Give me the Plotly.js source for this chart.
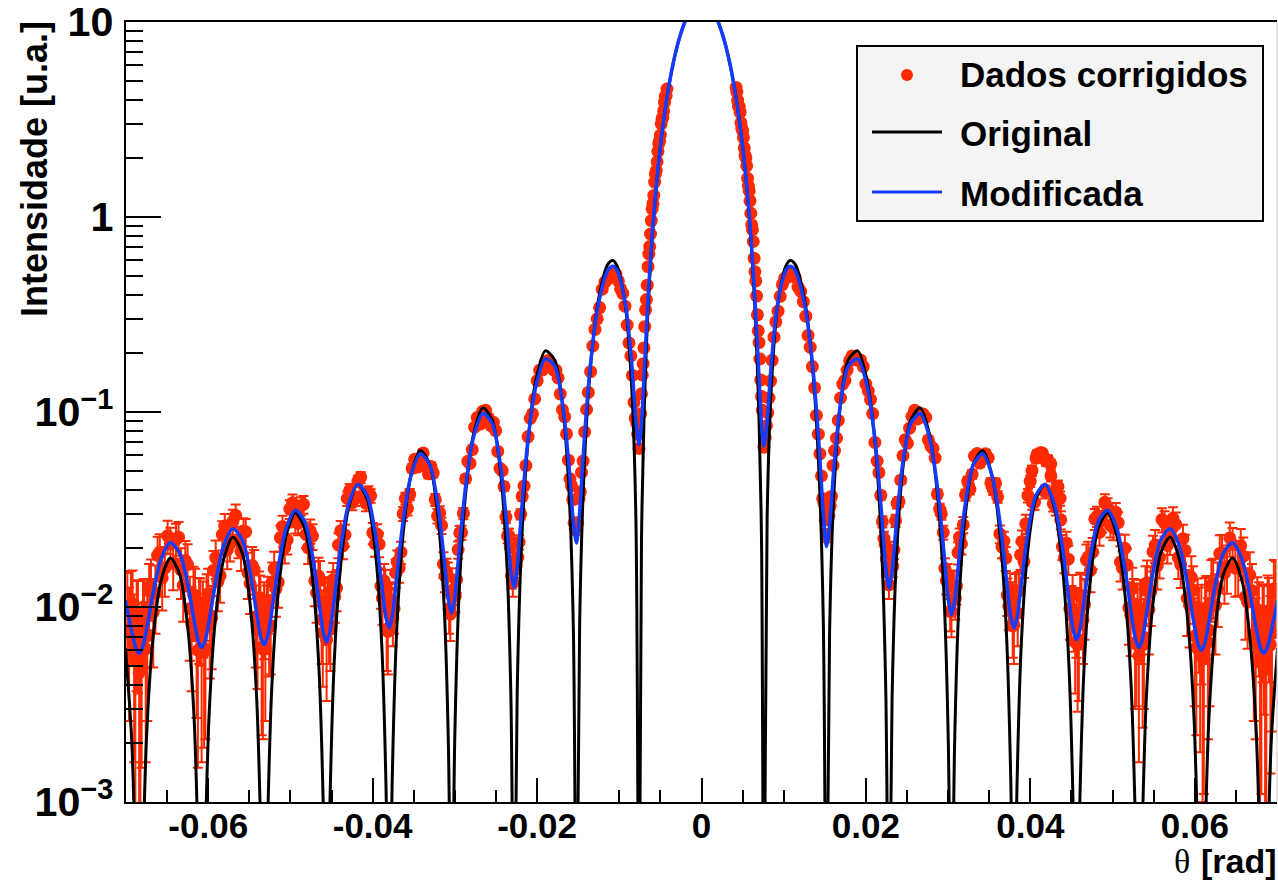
<!DOCTYPE html>
<html>
<head>
<meta charset="utf-8">
<script src="https://cdn.plot.ly/plotly-3.0.1.min.js"></script>
<style>html,body{margin:0;padding:0;background:#fff}#chart{width:1278px;height:881px}</style>
</head>
<body>
<div id="chart"></div>
<script>
// ---- model curves (shared theta grid, rad) ----
const curveTheta = [
-0.07007,-0.06931,-0.06878,-0.0684,
-0.06802,-0.06749,-0.06673,-0.06574,-0.0646,-0.06346,-0.06247,-0.06171,-0.06118,-0.0608,
-0.06042,-0.05989,-0.05913,-0.05814,-0.057,-0.05586,-0.05487,-0.05411,-0.05358,-0.0532,
-0.05282,-0.05229,-0.05153,-0.05054,-0.0494,-0.04826,-0.04727,-0.04651,-0.04598,-0.0456,
-0.04522,-0.04469,-0.04393,-0.04294,-0.0418,-0.04066,-0.03967,-0.03891,-0.03838,-0.038,
-0.03762,-0.03709,-0.03633,-0.03534,-0.0342,-0.03306,-0.03207,-0.03131,-0.03078,-0.0304,
-0.03002,-0.02949,-0.02873,-0.02774,-0.0266,-0.02546,-0.02447,-0.02371,-0.02318,-0.0228,
-0.02242,-0.02189,-0.02113,-0.02014,-0.019,-0.01786,-0.01687,-0.01611,-0.01558,-0.0152,
-0.01482,-0.01429,-0.01353,-0.01254,-0.0114,-0.01079,-0.01026,-0.00927,-0.00851,-0.00798,-0.0076,
-0.0073,-0.00699,-0.00646,-0.0057,-0.00494,-0.00418,-0.00342,-0.00266,-0.0019,-0.00114,0,
0.00114,0.0019,0.00266,0.00342,0.00418,0.00494,0.0057,0.00646,0.00699,0.0073,
0.0076,0.00798,0.00851,0.00927,0.01026,0.01079,0.0114,0.01254,0.01353,0.01429,0.01482,
0.0152,0.01558,0.01611,0.01687,0.01786,0.019,0.02014,0.02113,0.02189,0.02242,
0.0228,0.02318,0.02371,0.02447,0.02546,0.0266,0.02774,0.02873,0.02949,0.03002,
0.0304,0.03078,0.03131,0.03207,0.03306,0.0342,0.03534,0.03633,0.03709,0.03762,
0.038,0.03838,0.03891,0.03967,0.04066,0.0418,0.04294,0.04393,0.04469,0.04522,
0.0456,0.04598,0.04651,0.04727,0.04826,0.0494,0.05054,0.05153,0.05229,0.05282,
0.0532,0.05358,0.05411,0.05487,0.05586,0.057,0.05814,0.05913,0.05989,0.06042,
0.0608,0.06118,0.06171,0.06247,0.06346,0.0646,0.06574,0.06673,0.06749,0.06802,
0.0684,0.06878,0.06931,0.07007
];
const originalI = [
0.00615,0.002096,0.000384,1e-4,
0.000393,0.002211,0.006782,0.01365,0.01781,0.01465,0.007738,0.002644,0.000486,1e-4,
0.000498,0.002808,0.008638,0.01746,0.02288,0.01891,0.01003,0.003439,0.000634,1e-4,
0.000652,0.003684,0.01137,0.0231,0.03046,0.02534,0.01351,0.004655,0.00086,1e-4,
0.000889,0.005043,0.01565,0.032,0.04254,0.03569,0.01919,0.006651,0.001235,1e-4,
0.001285,0.007352,0.02288,0.04725,0.06355,0.05399,0.02936,0.01027,0.00192,1e-4,
0.002018,0.01164,0.03659,0.07668,0.105,0.09103,0.05042,0.01791,0.003385,1e-4,
0.003619,0.02102,0.06814,0.1455,0.2059,0.185,0.1061,0.0388,0.007493,1e-4,
0.008281,0.04933,0.165,0.3752,0.5719,0.5987,0.5605,0.3513,0.139,0.02856,1e-4,
0.0219,0.0941,0.367,1.144,2.42,4.15,6.2,8.34,10.29,11.79,12.7,
11.79,10.29,8.34,6.2,4.15,2.42,1.144,0.367,0.0941,0.0219,
1e-4,0.02856,0.139,0.3513,0.5605,0.5987,0.5719,0.3752,0.165,0.04933,0.008281,
1e-4,0.007493,0.0388,0.1061,0.185,0.2059,0.1455,0.06814,0.02102,0.003619,
1e-4,0.003385,0.01791,0.05042,0.09103,0.105,0.07668,0.03659,0.01164,0.002018,
1e-4,0.00192,0.01027,0.02936,0.05399,0.06355,0.04725,0.02288,0.007352,0.001285,
1e-4,0.001235,0.006651,0.01919,0.03569,0.04254,0.032,0.01565,0.005043,0.000889,
1e-4,0.00086,0.004655,0.01351,0.02534,0.03046,0.0231,0.01137,0.003684,0.000652,
1e-4,0.000634,0.003439,0.01003,0.01891,0.02288,0.01746,0.008638,0.002808,0.000498,
1e-4,0.000486,0.002644,0.007738,0.01465,0.01781,0.01365,0.006782,0.002211,0.000393,
1e-4,0.000384,0.002096,0.00615
];
const modificadaI = [
0.01082,0.00753,0.00612,0.0058,
0.00615,0.00771,0.01164,0.0176,0.02137,0.01883,0.01292,0.00849,0.00663,0.0062,
0.0066,0.00845,0.01319,0.02051,0.02517,0.02211,0.01481,0.0093,0.00694,0.0064,
0.00692,0.00935,0.01553,0.02512,0.03137,0.02745,0.01781,0.01049,0.00733,0.0066,
0.00739,0.01087,0.01972,0.03345,0.04254,0.03721,0.02367,0.01327,0.00879,0.0078,
0.00892,0.01396,0.02679,0.04708,0.06101,0.05364,0.03352,0.01774,0.01084,0.0093,
0.0111,0.0193,0.0402,0.0739,0.0982,0.0875,0.0542,0.0273,0.0153,0.0126,
0.01601,0.03092,0.0706,0.1356,0.1874,0.1722,0.1081,0.05282,0.02718,0.0213,
0.0307,0.0691,0.1722,0.3567,0.532,0.5598,0.532,0.361,0.1832,0.0906,0.068,
0.087,0.152,0.41,1.16,2.42,4.15,6.2,8.34,10.29,11.79,12.7,
11.79,10.29,8.34,6.2,4.15,2.42,1.16,0.41,0.152,0.087,
0.067,0.0897,0.1824,0.3604,0.5318,0.5597,0.5319,0.3565,0.1717,0.0684,0.0299,
0.0204,0.02633,0.05212,0.1076,0.172,0.1874,0.1356,0.07045,0.03076,0.01587,
0.0125,0.0152,0.0272,0.0541,0.0874,0.0982,0.0738,0.0401,0.0191,0.0109,
0.0091,0.01066,0.01759,0.03342,0.05361,0.06101,0.04706,0.02676,0.01394,0.00892,
0.0078,0.0088,0.0133,0.02369,0.03723,0.04254,0.03347,0.01982,0.01102,0.00757,
0.0068,0.00749,0.01062,0.01788,0.02746,0.03137,0.02511,0.01547,0.00922,0.00675,
0.0062,0.00674,0.00913,0.0147,0.02207,0.02517,0.02046,0.01307,0.00828,0.00641,
0.006,0.00643,0.00835,0.01284,0.01881,0.02137,0.01758,0.01159,0.00767,0.00613,
0.0058,0.00612,0.00753,0.01082
];

// ---- corrected data points, first pass (set A) ----
const dataThetaA = [
-0.0042,-0.0044,-0.0046,-0.0048,-0.005,-0.0052,-0.0054,-0.0056,-0.0058,-0.006,-0.0062,-0.0064,-0.0066,-0.0068,-0.007,-0.0072,-0.0074,
0.0042,0.0044,0.0046,0.0048,0.005,0.0052,0.0054,0.0056,0.0058,0.006,0.0062,0.0064,0.0066,0.0068,0.007,0.0072,0.0074,
-0.0076,-0.0079,-0.00821,-0.00859,-0.00904,-0.00958,-0.01011,-0.01072,-0.0114,-0.01208,-0.01269,-0.01322,-0.01376,-0.01421,-0.01459,-0.0149,
0.0076,0.0079,0.00821,0.00859,0.00904,0.00958,0.01011,0.01072,0.0114,0.01208,0.01269,0.01322,0.01376,0.01421,0.01459,0.0149,
-0.0152,-0.0155,-0.01581,-0.01619,-0.01664,-0.01718,-0.01771,-0.01832,-0.019,-0.01968,-0.02029,-0.02082,-0.02136,-0.02181,-0.02219,-0.0225,
0.0152,0.0155,0.01581,0.01619,0.01664,0.01718,0.01771,0.01832,0.019,0.01968,0.02029,0.02082,0.02136,0.02181,0.02219,0.0225,
-0.0228,-0.0231,-0.02341,-0.02379,-0.02424,-0.02478,-0.02531,-0.02592,-0.0266,-0.02728,-0.02789,-0.02842,-0.02896,-0.02941,-0.02979,-0.0301,
0.0228,0.0231,0.02341,0.02379,0.02424,0.02478,0.02531,0.02592,0.0266,0.02728,0.02789,0.02842,0.02896,0.02941,0.02979,0.0301,
-0.0304,-0.0307,-0.03101,-0.03139,-0.03184,-0.03238,-0.03291,-0.03352,-0.0342,-0.03488,-0.03549,-0.03602,-0.03656,-0.03701,-0.03739,-0.0377,
0.0304,0.0307,0.03101,0.03139,0.03184,0.03238,0.03291,0.03352,0.0342,0.03488,0.03549,0.03602,0.03656,0.03701,0.03739,0.0377,
-0.038,-0.0383,-0.03861,-0.03899,-0.03944,-0.03998,-0.04051,-0.04112,-0.0418,-0.04248,-0.04309,-0.04362,-0.04416,-0.04461,-0.04499,-0.0453,
0.038,0.0383,0.03861,0.03899,0.03944,0.03998,0.04051,0.04112,0.0418,0.04248,0.04309,0.04362,0.04416,0.04461,0.04499,0.0453,
-0.0456,-0.0459,-0.04621,-0.04659,-0.04704,-0.04758,-0.04811,-0.04872,-0.0494,-0.05008,-0.05069,-0.05122,-0.05176,-0.05221,-0.05259,-0.0529,
0.0456,0.0459,0.04621,0.04659,0.04704,0.04758,0.04811,0.04872,0.0494,0.05008,0.05069,0.05122,0.05176,0.05221,0.05259,0.0529,
-0.0532,-0.0535,-0.05381,-0.05419,-0.05464,-0.05518,-0.05571,-0.05632,-0.057,-0.05768,-0.05829,-0.05882,-0.05936,-0.05981,-0.06019,-0.0605,
0.0532,0.0535,0.05381,0.05419,0.05464,0.05518,0.05571,0.05632,0.057,0.05768,0.05829,0.05882,0.05936,0.05981,0.06019,0.0605,
-0.0608,-0.0611,-0.06141,-0.06179,-0.06224,-0.06278,-0.06331,-0.06392,-0.0646,-0.06528,-0.06589,-0.06642,-0.06696,-0.06741,-0.06779,-0.0681,
0.0608,0.0611,0.06141,0.06179,0.06224,0.06278,0.06331,0.06392,0.0646,0.06528,0.06589,0.06642,0.06696,0.06741,0.06779,0.0681,
-0.0684,-0.0687,-0.06901,-0.06939,-0.06984,
0.0684,0.0687,0.06901,0.06939,0.06984,
0.0402,0.0407,0.0413,0.0419,0.0425,0.0431,0.0437
];
const dataIntensityA = [
4.53,4.16,3.5,3.19,2.63,2.38,1.92,1.66,1.29,1.1,0.818,0.646,0.447,0.334,0.213,0.155,0.098,
4.62,3.96,3.68,3.04,2.76,2.26,2.01,1.58,1.36,1.045,0.86,0.614,0.47,0.315,0.227,0.146,0.102,
0.065,0.088,0.112,0.194,0.279,0.406,0.47,0.52,0.48,0.426,0.3,0.218,0.126,0.079,0.049,0.036,
0.066,0.085,0.118,0.184,0.29,0.392,0.485,0.515,0.49,0.415,0.31,0.215,0.133,0.077,0.047,0.034,
0.0263,0.027,0.0418,0.0566,0.0943,0.1237,0.1638,0.1766,0.18,0.1639,0.1167,0.0928,0.0531,0.0369,0.0215,0.017,
0.0233,0.0294,0.0369,0.0634,0.0905,0.139,0.164,0.194,0.184,0.171,0.128,0.0982,0.056,0.0374,0.0225,0.0176,
0.0154,0.0144,0.0232,0.0289,0.05,0.0628,0.0885,0.0933,0.101,0.0937,0.0642,0.0559,0.0302,0.024,0.0138,0.0123,
0.013,0.0173,0.0196,0.034,0.0447,0.0721,0.0826,0.102,0.098,0.0938,0.0669,0.0581,0.0318,0.0241,0.0136,0.013,
0.0115,0.0098,0.0152,0.0166,0.0304,0.0355,0.0526,0.0529,0.058,0.0572,0.0378,0.036,0.0191,0.017,0.0098,0.0109,
0.0095,0.0128,0.0128,0.0228,0.0264,0.0441,0.0479,0.0612,0.0582,0.0581,0.04,0.0367,0.0203,0.0178,0.0101,0.0109,
0.0102,0.0077,0.0136,0.0128,0.0236,0.024,0.0386,0.0374,0.0441,0.0343,0.036,0.0206,0.0208,0.0113,0.0121,0.0081,
0.0081,0.0118,0.0121,0.0217,0.0267,0.0442,0.0345,0.0602,0.039,0.0541,0.0325,0.0361,0.0179,0.0176,0.0098,0.0089,
0.0068,0.0105,0.0086,0.0144,0.0136,0.0246,0.0236,0.033,0.0273,0.0318,0.0202,0.0227,0.0124,0.0134,0.0079,0.0094,
0.009,0.0068,0.0112,0.0103,0.0181,0.0191,0.0292,0.0276,0.0326,0.0255,0.0271,0.0158,0.0164,0.0091,0.0104,0.0066,
0.0094,0.0062,0.0112,0.0089,0.0163,0.015,0.0245,0.0218,0.0275,0.0196,0.0235,0.0135,0.0154,0.0083,0.0107,0.0059,
0.0056,0.0091,0.007,0.0133,0.012,0.0208,0.018,0.027,0.0225,0.0265,0.0165,0.0195,0.0102,0.0122,0.0062,0.0086,
0.0061,0.0096,0.0072,0.0116,0.0098,0.0173,0.0155,0.0222,0.021,0.0158,0.0191,0.0118,0.013,0.0071,0.0094,0.006,
0.0085,0.0056,0.0099,0.0076,0.0132,0.0124,0.0189,0.0162,0.0209,0.0159,0.0182,0.0106,0.0121,0.0066,0.0089,0.0056,
0.0046,0.0087,0.0066,0.0103,0.01,
0.0078,0.005,0.0091,0.0073,0.0121,
0.05,0.058,0.062,0.056,0.047,0.04,0.028
];
const dataErrorA = [
0.0015,0.0015,0.0015,0.0015,0.0015,0.0015,0.0015,0.0015,0.0015,0.0015,0.0015,0.0015,0.0015,0.0015,0.0015,0.0015,0.0015,
0.0015,0.0015,0.0015,0.0015,0.0015,0.0015,0.0015,0.0015,0.0015,0.0015,0.0015,0.0015,0.0015,0.0015,0.0015,0.0015,0.0015,
0.0015,0.0015,0.0015,0.0015,0.0015,0.0015,0.0015,0.0015,0.0015,0.0015,0.0015,0.0015,0.0015,0.0015,0.0015,0.0015,
0.0015,0.0015,0.0015,0.0015,0.0015,0.0015,0.0015,0.0015,0.0015,0.0015,0.0015,0.0015,0.0015,0.0015,0.0015,0.0015,
0.0018,0.0018,0.0018,0.0018,0.0018,0.0018,0.0018,0.0018,0.0018,0.0018,0.0018,0.0018,0.0018,0.0018,0.0018,0.0018,
0.0018,0.0018,0.0018,0.0018,0.0018,0.0018,0.0018,0.0018,0.0018,0.0018,0.0018,0.0018,0.0018,0.0018,0.0018,0.0018,
0.002,0.002,0.002,0.002,0.002,0.002,0.002,0.002,0.002,0.002,0.002,0.002,0.002,0.002,0.002,0.002,
0.002,0.002,0.002,0.002,0.002,0.002,0.002,0.002,0.002,0.002,0.002,0.002,0.002,0.002,0.002,0.002,
0.0025,0.0025,0.0025,0.0025,0.0025,0.0025,0.0025,0.0025,0.0025,0.0025,0.0025,0.0025,0.0025,0.0025,0.0025,0.0025,
0.0025,0.0025,0.0025,0.0025,0.0025,0.0025,0.0025,0.0025,0.0025,0.0025,0.0025,0.0025,0.0025,0.0025,0.0025,0.0025,
0.003,0.003,0.003,0.003,0.003,0.003,0.003,0.003,0.003,0.003,0.003,0.003,0.003,0.003,0.003,0.003,
0.003,0.003,0.003,0.003,0.003,0.003,0.003,0.003,0.003,0.003,0.003,0.003,0.003,0.003,0.003,0.003,
0.0035,0.0035,0.0035,0.0035,0.0035,0.0035,0.0035,0.0035,0.0035,0.0035,0.0035,0.0035,0.0035,0.0035,0.0035,0.0035,
0.0035,0.0035,0.0035,0.0035,0.0035,0.0035,0.0035,0.0035,0.0035,0.0035,0.0035,0.0035,0.0035,0.0035,0.0035,0.0035,
0.004,0.004,0.004,0.004,0.004,0.004,0.004,0.004,0.004,0.004,0.004,0.004,0.004,0.004,0.004,0.004,
0.004,0.004,0.004,0.004,0.004,0.004,0.004,0.004,0.004,0.004,0.004,0.004,0.004,0.004,0.004,0.004,
0.0045,0.0045,0.0045,0.0045,0.0045,0.0045,0.0045,0.0045,0.0045,0.0045,0.0045,0.0045,0.0045,0.0045,0.0045,0.0045,
0.0045,0.0045,0.0045,0.0045,0.0045,0.0045,0.0045,0.0045,0.0045,0.0045,0.0045,0.0045,0.0045,0.0045,0.0045,0.0045,
0.005,0.005,0.005,0.005,0.005,
0.005,0.005,0.005,0.005,0.005,
0.003,0.003,0.003,0.003,0.003,0.003,0.003
];

// ---- corrected data points, interleaved pass (set B) ----
const dataThetaB = [
-0.0043,-0.0045,-0.0047,-0.0049,-0.0051,-0.0053,-0.0055,-0.0057,-0.0059,-0.0061,-0.0063,-0.0065,-0.0067,-0.0069,-0.0071,-0.0073,
0.0043,0.0045,0.0047,0.0049,0.0051,0.0053,0.0055,0.0057,0.0059,0.0061,0.0063,0.0065,0.0067,0.0069,0.0071,0.0073,
-0.00775,-0.00806,-0.0084,-0.00882,-0.00931,-0.00984,-0.01041,-0.01106,-0.01174,-0.01239,-0.01296,-0.01349,-0.01398,-0.0144,-0.01474,-0.01505,
0.00775,0.00806,0.0084,0.00882,0.00931,0.00984,0.01041,0.01106,0.01174,0.01239,0.01296,0.01349,0.01398,0.0144,0.01474,0.01505,
-0.01535,-0.01566,-0.016,-0.01642,-0.01691,-0.01744,-0.01801,-0.01866,-0.01934,-0.01999,-0.02056,-0.02109,-0.02158,-0.022,-0.02234,-0.02265,
0.01535,0.01566,0.016,0.01642,0.01691,0.01744,0.01801,0.01866,0.01934,0.01999,0.02056,0.02109,0.02158,0.022,0.02234,0.02265,
-0.02295,-0.02326,-0.0236,-0.02402,-0.02451,-0.02504,-0.02561,-0.02626,-0.02694,-0.02759,-0.02816,-0.02869,-0.02918,-0.0296,-0.02994,-0.03025,
0.02295,0.02326,0.0236,0.02402,0.02451,0.02504,0.02561,0.02626,0.02694,0.02759,0.02816,0.02869,0.02918,0.0296,0.02994,0.03025,
-0.03055,-0.03086,-0.0312,-0.03162,-0.03211,-0.03264,-0.03321,-0.03386,-0.03454,-0.03519,-0.03576,-0.03629,-0.03678,-0.0372,-0.03754,-0.03785,
0.03055,0.03086,0.0312,0.03162,0.03211,0.03264,0.03321,0.03386,0.03454,0.03519,0.03576,0.03629,0.03678,0.0372,0.03754,0.03785,
-0.03815,-0.03846,-0.0388,-0.03922,-0.03971,-0.04024,-0.04081,-0.04146,-0.04214,-0.04279,-0.04336,-0.04389,-0.04438,-0.0448,-0.04514,-0.04545,
0.03815,0.03846,0.0388,0.03922,0.03971,0.04024,0.04081,0.04146,0.04214,0.04279,0.04336,0.04389,0.04438,0.0448,0.04514,0.04545,
-0.04575,-0.04606,-0.0464,-0.04682,-0.04731,-0.04784,-0.04841,-0.04906,-0.04974,-0.05039,-0.05096,-0.05149,-0.05198,-0.0524,-0.05274,-0.05305,
0.04575,0.04606,0.0464,0.04682,0.04731,0.04784,0.04841,0.04906,0.04974,0.05039,0.05096,0.05149,0.05198,0.0524,0.05274,0.05305,
-0.05335,-0.05366,-0.054,-0.05442,-0.05491,-0.05544,-0.05601,-0.05666,-0.05734,-0.05799,-0.05856,-0.05909,-0.05958,-0.06,-0.06034,-0.06065,
0.05335,0.05366,0.054,0.05442,0.05491,0.05544,0.05601,0.05666,0.05734,0.05799,0.05856,0.05909,0.05958,0.06,0.06034,0.06065,
-0.06095,-0.06126,-0.0616,-0.06202,-0.06251,-0.06304,-0.06361,-0.06426,-0.06494,-0.06559,-0.06616,-0.06669,-0.06718,-0.0676,-0.06794,-0.06825,
0.06095,0.06126,0.0616,0.06202,0.06251,0.06304,0.06361,0.06426,0.06494,0.06559,0.06616,0.06669,0.06718,0.0676,0.06794,0.06825,
-0.06855,-0.06886,-0.0692,-0.06962,
0.06855,0.06886,0.0692,0.06962
];
const dataIntensityB = [
4.19,3.88,3.24,3.0,2.45,2.17,1.73,1.51,1.17,0.959,0.705,0.556,0.377,0.274,0.177,0.124,
4.37,3.69,3.44,2.85,2.55,2.07,1.83,1.44,1.21,0.912,0.749,0.524,0.393,0.261,0.187,0.12,
0.077,0.093,0.154,0.226,0.349,0.428,0.51,0.493,0.464,0.343,0.265,0.161,0.103,0.056,0.039,0.027,
0.074,0.099,0.144,0.242,0.329,0.45,0.49,0.518,0.437,0.368,0.247,0.171,0.096,0.061,0.036,0.028,
0.0253,0.0355,0.0454,0.0772,0.1027,0.1495,0.1642,0.1837,0.1642,0.1447,0.0979,0.0748,0.0417,0.0299,0.018,0.0159,
0.0285,0.0331,0.0532,0.0734,0.118,0.1451,0.1831,0.1873,0.1848,0.139,0.1158,0.0698,0.0489,0.0274,0.021,0.015,
0.0133,0.0202,0.0232,0.0415,0.0514,0.0802,0.0851,0.102,0.0867,0.0836,0.0545,0.0454,0.0241,0.0197,0.0114,0.0122,
0.0166,0.0162,0.0277,0.0347,0.0597,0.0691,0.095,0.0922,0.0977,0.072,0.0651,0.038,0.03,0.0158,0.0146,0.0095,
0.0092,0.0144,0.0144,0.0262,0.0293,0.0486,0.0482,0.0617,0.0522,0.0514,0.032,0.0301,0.0158,0.015,0.0088,0.0106,
0.0129,0.0111,0.019,0.0211,0.0376,0.0402,0.0594,0.0547,0.0611,0.0433,0.0431,0.0237,0.0218,0.0115,0.0124,0.008,
0.0075,0.0125,0.0111,0.021,0.0211,0.0372,0.034,0.0463,0.036,0.0397,0.0234,0.0246,0.0125,0.0138,0.0077,0.0103,
0.0118,0.0093,0.0185,0.0171,0.0373,0.0345,0.0605,0.0613,0.0568,0.0339,0.0415,0.0204,0.0213,0.0098,0.0116,0.0066,
0.0107,0.0074,0.0137,0.0118,0.0231,0.0201,0.0336,0.0268,0.0342,0.0221,0.0259,0.0134,0.0157,0.008,0.0108,0.0061,
0.0064,0.0115,0.0086,0.0174,0.0154,0.0283,0.0241,0.0344,0.0262,0.0306,0.017,0.02,0.0099,0.0124,0.0065,0.0097,
0.0061,0.0105,0.0078,0.0156,0.0132,0.0243,0.0193,0.0295,0.0211,0.026,0.0145,0.0179,0.0088,0.0117,0.0061,0.0095,
0.0098,0.0064,0.0122,0.0097,0.0192,0.0163,0.0281,0.0207,0.0285,0.0179,0.0224,0.0111,0.0142,0.0071,0.01,0.0058,
0.0095,0.006,0.0112,0.0082,0.0165,0.0129,0.0228,0.0167,0.0232,0.0141,0.0184,0.0094,0.0121,0.0061,0.0093,0.005,
0.0055,0.0096,0.0066,0.0129,0.0102,0.0188,0.0149,0.0226,0.0158,0.0206,0.0113,0.0146,0.0071,0.0097,0.0052,0.0086,
0.0086,0.0053,0.0104,0.0076,
0.005,0.0095,0.0064,0.0124
];
const dataErrorB = [
0.0015,0.0015,0.0015,0.0015,0.0015,0.0015,0.0015,0.0015,0.0015,0.0015,0.0015,0.0015,0.0015,0.0015,0.0015,0.0015,
0.0015,0.0015,0.0015,0.0015,0.0015,0.0015,0.0015,0.0015,0.0015,0.0015,0.0015,0.0015,0.0015,0.0015,0.0015,0.0015,
0.0015,0.0015,0.0015,0.0015,0.0015,0.0015,0.0015,0.0015,0.0015,0.0015,0.0015,0.0015,0.0015,0.0015,0.0015,0.0015,
0.0015,0.0015,0.0015,0.0015,0.0015,0.0015,0.0015,0.0015,0.0015,0.0015,0.0015,0.0015,0.0015,0.0015,0.0015,0.0015,
0.0018,0.0018,0.0018,0.0018,0.0018,0.0018,0.0018,0.0018,0.0018,0.0018,0.0018,0.0018,0.0018,0.0018,0.0018,0.0018,
0.0018,0.0018,0.0018,0.0018,0.0018,0.0018,0.0018,0.0018,0.0018,0.0018,0.0018,0.0018,0.0018,0.0018,0.0018,0.0018,
0.002,0.002,0.002,0.002,0.002,0.002,0.002,0.002,0.002,0.002,0.002,0.002,0.002,0.002,0.002,0.002,
0.002,0.002,0.002,0.002,0.002,0.002,0.002,0.002,0.002,0.002,0.002,0.002,0.002,0.002,0.002,0.002,
0.0025,0.0025,0.0025,0.0025,0.0025,0.0025,0.0025,0.0025,0.0025,0.0025,0.0025,0.0025,0.0025,0.0025,0.0025,0.0025,
0.0025,0.0025,0.0025,0.0025,0.0025,0.0025,0.0025,0.0025,0.0025,0.0025,0.0025,0.0025,0.0025,0.0025,0.0025,0.0025,
0.003,0.003,0.003,0.003,0.003,0.003,0.003,0.003,0.003,0.003,0.003,0.003,0.003,0.003,0.003,0.003,
0.003,0.003,0.003,0.003,0.003,0.003,0.003,0.003,0.003,0.003,0.003,0.003,0.003,0.003,0.003,0.003,
0.0035,0.0035,0.0035,0.0035,0.0035,0.0035,0.0035,0.0035,0.0035,0.0035,0.0035,0.0035,0.0035,0.0035,0.0035,0.0035,
0.0035,0.0035,0.0035,0.0035,0.0035,0.0035,0.0035,0.0035,0.0035,0.0035,0.0035,0.0035,0.0035,0.0035,0.0035,0.0035,
0.004,0.004,0.004,0.004,0.004,0.004,0.004,0.004,0.004,0.004,0.004,0.004,0.004,0.004,0.004,0.004,
0.004,0.004,0.004,0.004,0.004,0.004,0.004,0.004,0.004,0.004,0.004,0.004,0.004,0.004,0.004,0.004,
0.0045,0.0045,0.0045,0.0045,0.0045,0.0045,0.0045,0.0045,0.0045,0.0045,0.0045,0.0045,0.0045,0.0045,0.0045,0.0045,
0.0045,0.0045,0.0045,0.0045,0.0045,0.0045,0.0045,0.0045,0.0045,0.0045,0.0045,0.0045,0.0045,0.0045,0.0045,0.0045,
0.005,0.005,0.005,0.005,
0.005,0.005,0.005,0.005
];

// ---- axis labels / legend text ----
const xTickVals = [-0.06,-0.04,-0.02,0,0.02,0.04,0.06];
const xTickText = ['-0.06','-0.04','-0.02','0','0.02','0.04','0.06'];
const legendLabels = ['Dados corrigidos','Original','Modificada'];
const yTitle = 'Intensidade [u.a.]';

const RED = '#ff2a00', BLUE = '#143cff', BLACK = '#000000';
const FONT = 'Liberation Sans, Arial, Helvetica, sans-serif';

const traces = [
  {
    type:'scatter', mode:'markers',
    x:dataThetaA.concat(dataThetaB), y:dataIntensityA.concat(dataIntensityB), name:legendLabels[0],
    marker:{color:RED, size:13, line:{width:0}},
    error_y:{type:'data', array:dataErrorA.concat(dataErrorB), visible:true, color:RED, thickness:2, width:5},
    hoverinfo:'skip'
  },
  {
    type:'scatter', mode:'lines', x:curveTheta, y:originalI, name:legendLabels[1],
    line:{color:BLACK, width:3, shape:'spline', smoothing:0.8}, hoverinfo:'skip'
  },
  {
    type:'scatter', mode:'lines', x:curveTheta, y:modificadaI, name:legendLabels[2],
    line:{color:BLUE, width:3.5, shape:'spline', smoothing:0.8}, hoverinfo:'skip'
  }
];

// pixel helpers for the ROOT-style legend box (plot area 126..1277 x 22..802)
const px = v => (v - 126) / 1151;
const py = v => (802 - v) / 780;

const layout = {
  width:1278, height:881,
  margin:{l:126, r:1, t:22, b:79},
  paper_bgcolor:'#ffffff', plot_bgcolor:'#ffffff',
  showlegend:false,
  font:{family:FONT, color:BLACK, weight:'bold'},
  xaxis:{
    type:'linear', range:[-0.07,0.07],
    tickmode:'array', tickvals:xTickVals, ticktext:xTickText,
    ticks:'inside', ticklen:24, tickwidth:2, tickcolor:BLACK,
    showline:true, linewidth:2, linecolor:BLACK, mirror:true,
    showgrid:false, zeroline:false, ticklabelstandoff:-8, ticklabeloverflow:'allow',
    tickfont:{family:FONT, size:35, weight:'bold', color:BLACK},
    minor:{ticks:'inside', ticklen:12, tickwidth:2, tickcolor:BLACK, dtick:0.005, tick0:0, showgrid:false}
  },
  yaxis:{
    type:'log', range:[-3,1], dtick:1, exponentformat:'power',
    ticks:'inside', ticklen:35, tickwidth:2, tickcolor:BLACK,
    showline:true, linewidth:2, linecolor:BLACK, mirror:false,
    showgrid:false, zeroline:false, ticklabelstandoff:4, ticklabeloverflow:'allow',
    tickfont:{family:FONT, size:33, weight:'bold', color:BLACK},
    minor:{ticks:'inside', ticklen:17, tickwidth:2, tickcolor:BLACK, dtick:'D1', showgrid:false}
  },
  shapes:[
    {type:'line', xref:'paper', yref:'paper', x0:1, x1:1, y0:0, y1:1, line:{color:'#c8c8c8', width:1}},
    {type:'rect', xref:'paper', yref:'paper', x0:px(857), x1:px(1263), y0:py(221), y1:py(46),
      fillcolor:'#f4f4f4', line:{color:BLACK, width:2}},
    {type:'circle', xref:'paper', yref:'paper', x0:px(901), x1:px(913), y0:py(81), y1:py(69),
      fillcolor:RED, line:{width:0}},
    {type:'line', xref:'paper', yref:'paper', x0:px(872), x1:px(942), y0:py(132), y1:py(132), line:{color:BLACK, width:3}},
    {type:'line', xref:'paper', yref:'paper', x0:px(872), x1:px(942), y0:py(192), y1:py(192), line:{color:BLUE, width:3}}
  ],
  annotations:[
    {text:yTitle, xref:'paper', yref:'paper', x:px(34), y:py(19), xanchor:'center', yanchor:'top',
      textangle:-90, showarrow:false, font:{family:FONT, size:36, weight:'bold', color:BLACK}},
    {text:'θ', xref:'paper', yref:'paper', x:px(1192), y:py(861), xanchor:'right', yanchor:'middle',
      showarrow:false, font:{family:'Liberation Serif, DejaVu Serif, serif', size:34, weight:'normal', color:BLACK}},
    {text:'[rad]', xref:'paper', yref:'paper', x:px(1279), y:py(861), xanchor:'right', yanchor:'middle',
      showarrow:false, font:{family:FONT, size:34, weight:'bold', color:BLACK}},
    {text:legendLabels[0], xref:'paper', yref:'paper', x:px(958), y:py(75), xanchor:'left', yanchor:'middle',
      showarrow:false, font:{family:FONT, size:35, weight:'bold', color:BLACK}},
    {text:legendLabels[1], xref:'paper', yref:'paper', x:px(958), y:py(133), xanchor:'left', yanchor:'middle',
      showarrow:false, font:{family:FONT, size:35, weight:'bold', color:BLACK}},
    {text:legendLabels[2], xref:'paper', yref:'paper', x:px(958), y:py(193), xanchor:'left', yanchor:'middle',
      showarrow:false, font:{family:FONT, size:35, weight:'bold', color:BLACK}}
  ]
};

Plotly.newPlot('chart', traces, layout, {displayModeBar:false, staticPlot:true});
</script>
</body>
</html>
